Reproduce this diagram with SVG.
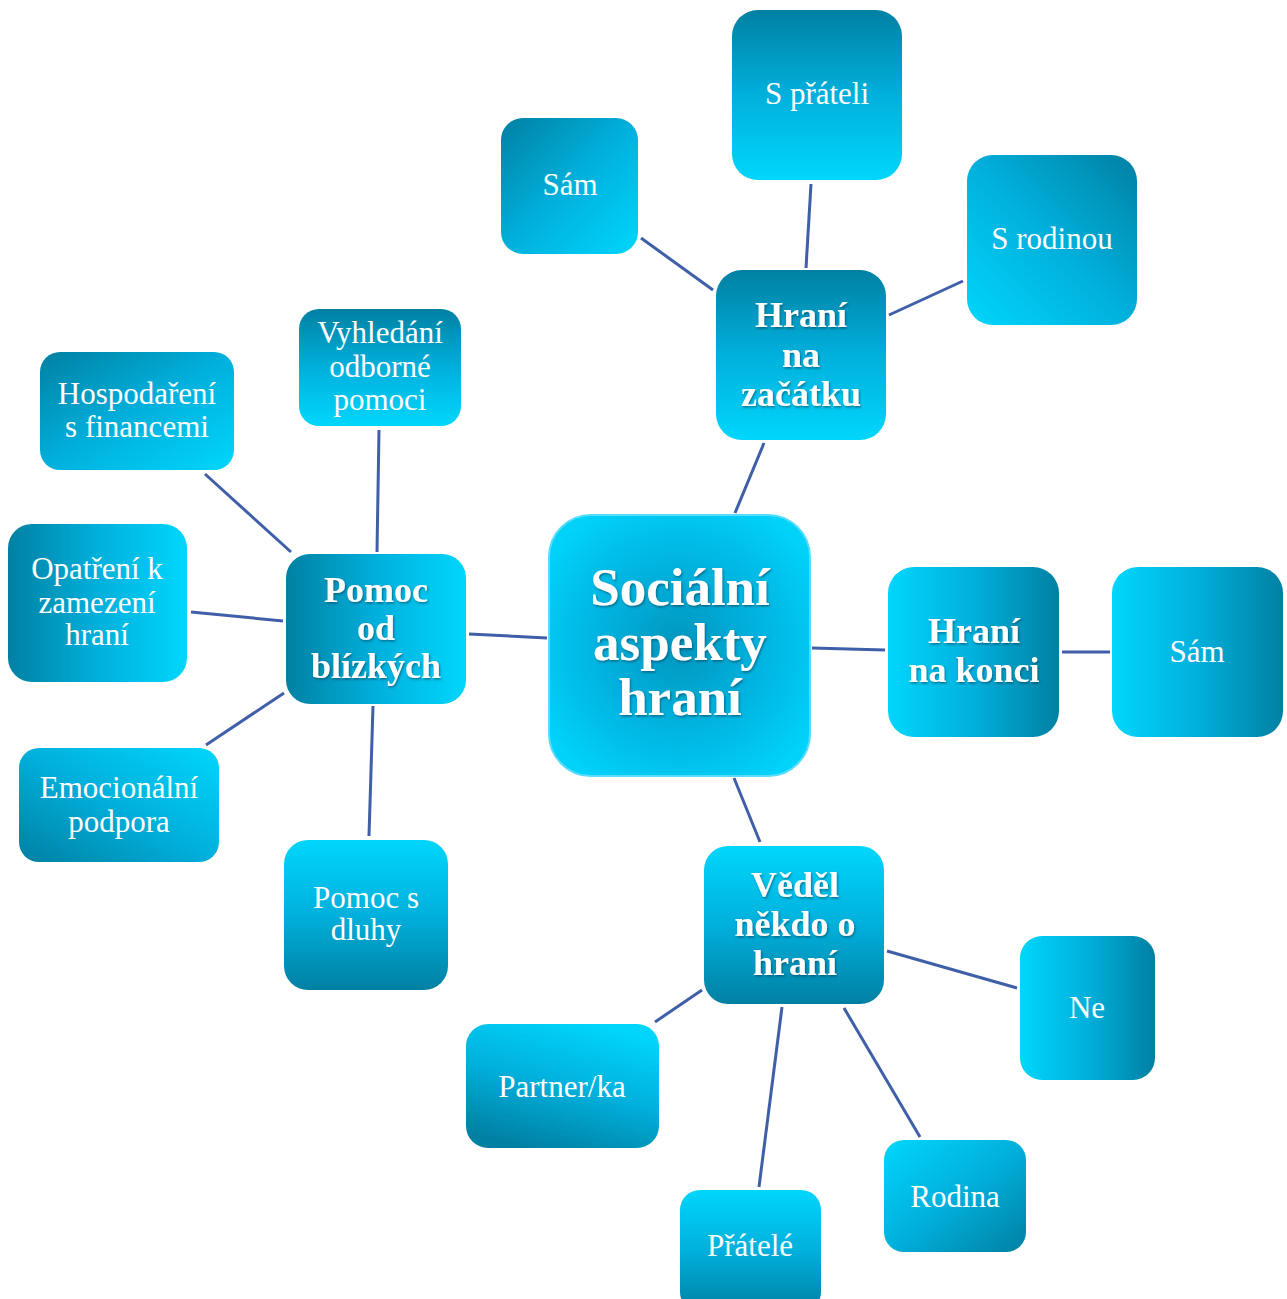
<svg xmlns="http://www.w3.org/2000/svg" width="1287" height="1299" viewBox="0 0 1287 1299">
<defs>
<linearGradient id="gDarkTop" x1="0" y1="0" x2="0" y2="1"><stop offset="0" stop-color="#0080a2"/><stop offset="0.5" stop-color="#00b0dc"/><stop offset="1" stop-color="#00d6fc"/></linearGradient>
<linearGradient id="gLightTop" x1="0" y1="0" x2="0" y2="1"><stop offset="0" stop-color="#00d6fc"/><stop offset="0.5" stop-color="#00b0dc"/><stop offset="1" stop-color="#0080a2"/></linearGradient>
<linearGradient id="gDarkLeft" x1="0" y1="0" x2="1" y2="0"><stop offset="0" stop-color="#0080a2"/><stop offset="0.5" stop-color="#00b0dc"/><stop offset="1" stop-color="#00d6fc"/></linearGradient>
<linearGradient id="gLightLeft" x1="0" y1="0" x2="1" y2="0"><stop offset="0" stop-color="#00d6fc"/><stop offset="0.5" stop-color="#00b0dc"/><stop offset="1" stop-color="#0080a2"/></linearGradient>
<linearGradient id="gDarkTL" x1="0" y1="0" x2="1" y2="1"><stop offset="0" stop-color="#0080a2"/><stop offset="0.5" stop-color="#00b0dc"/><stop offset="1" stop-color="#00d6fc"/></linearGradient>
<linearGradient id="gLightTL" x1="0" y1="0" x2="1" y2="1"><stop offset="0" stop-color="#00d6fc"/><stop offset="0.5" stop-color="#00b0dc"/><stop offset="1" stop-color="#0080a2"/></linearGradient>
<linearGradient id="gDarkTR" x1="1" y1="0" x2="0" y2="1"><stop offset="0" stop-color="#0080a2"/><stop offset="0.5" stop-color="#00b0dc"/><stop offset="1" stop-color="#00d6fc"/></linearGradient>
<linearGradient id="gLightTR" x1="1" y1="0" x2="0" y2="1"><stop offset="0" stop-color="#00d6fc"/><stop offset="0.5" stop-color="#00b0dc"/><stop offset="1" stop-color="#0080a2"/></linearGradient>
<linearGradient id="gPartner" x1="0.7" y1="0" x2="0.3" y2="1"><stop offset="0" stop-color="#00d6fc"/><stop offset="0.5" stop-color="#00b0dc"/><stop offset="1" stop-color="#0080a2"/></linearGradient>
<radialGradient id="gCenter" cx="0.5" cy="0.5" r="0.6"><stop offset="0" stop-color="#0096be"/><stop offset="0.6" stop-color="#00b8e4"/><stop offset="1" stop-color="#00d2fa"/></radialGradient>
<filter id="shadow" x="-10%" y="-10%" width="120%" height="130%"><feDropShadow dx="1" dy="1.5" stdDeviation="1" flood-color="#00304a" flood-opacity="0.55"/></filter>
</defs>
<style>
.lbl{font-family:"Liberation Serif","Times New Roman",serif;fill:#ffffff;text-anchor:middle;font-size:31px;}
.bold{font-weight:bold;font-size:36px;filter:url(#shadow);}
.big{font-weight:bold;font-size:53px;filter:url(#shadow);}
.conn line{stroke:#3f5fa8;stroke-width:3;stroke-linecap:butt;}
</style>
<rect width="1287" height="1299" fill="#ffffff"/>
<g id="connectors" class="conn">
<line x1="735" y1="513" x2="764" y2="443"/>
<line x1="713" y1="290" x2="641" y2="238"/>
<line x1="806" y1="268" x2="811" y2="184"/>
<line x1="889" y1="315" x2="963" y2="281"/>
<line x1="812" y1="648" x2="885" y2="650"/>
<line x1="1062" y1="652" x2="1110" y2="652"/>
<line x1="734" y1="778" x2="760" y2="842"/>
<line x1="887" y1="951" x2="1017" y2="988"/>
<line x1="702" y1="990" x2="655" y2="1022"/>
<line x1="782" y1="1007" x2="759" y2="1187"/>
<line x1="844" y1="1008" x2="920" y2="1137"/>
<line x1="547" y1="638" x2="469" y2="634"/>
<line x1="377" y1="552" x2="379" y2="430"/>
<line x1="291" y1="552" x2="205" y2="474"/>
<line x1="283" y1="621" x2="191" y2="612"/>
<line x1="284" y1="693" x2="206" y2="745"/>
<line x1="373" y1="706" x2="369" y2="836"/>
</g>
<g id="center">
<rect x="549" y="515" width="261" height="261" rx="42" fill="url(#gCenter)" stroke="#55dcff" stroke-width="2"/>
<text class="lbl big" x="680" y="605">Sociální</text>
<text class="lbl big" x="680" y="660">aspekty</text>
<text class="lbl big" x="680" y="715">hraní</text>
</g>
<g id="hrani-zacatek">
<rect x="716" y="270" width="170" height="170" rx="26" fill="url(#gDarkTop)"/>
<text class="lbl bold" x="801" y="327">Hraní</text>
<text class="lbl bold" x="801" y="367">na</text>
<text class="lbl bold" x="801" y="406">začátku</text>
</g>
<g id="sam-top">
<rect x="501" y="118" width="137" height="136" rx="22" fill="url(#gDarkTL)"/>
<text class="lbl" x="570" y="195">Sám</text>
</g>
<g id="s-prateli">
<rect x="732" y="10" width="170" height="170" rx="26" fill="url(#gDarkTop)"/>
<text class="lbl" x="817" y="104">S přáteli</text>
</g>
<g id="s-rodinou">
<rect x="967" y="155" width="170" height="170" rx="26" fill="url(#gDarkTR)"/>
<text class="lbl" x="1052" y="249">S rodinou</text>
</g>
<g id="hrani-konec">
<rect x="888" y="567" width="171" height="170" rx="26" fill="url(#gLightLeft)"/>
<text class="lbl bold" x="974" y="643">Hraní</text>
<text class="lbl bold" x="974" y="682">na konci</text>
</g>
<g id="sam-right">
<rect x="1112" y="567" width="171" height="170" rx="26" fill="url(#gLightLeft)"/>
<text class="lbl" x="1197" y="662">Sám</text>
</g>
<g id="vedel">
<rect x="704" y="846" width="180" height="158" rx="24" fill="url(#gLightTop)"/>
<text class="lbl bold" x="795" y="897">Věděl</text>
<text class="lbl bold" x="795" y="936">někdo o</text>
<text class="lbl bold" x="795" y="975">hraní</text>
</g>
<g id="ne">
<rect x="1020" y="936" width="135" height="144" rx="22" fill="url(#gLightLeft)"/>
<text class="lbl" x="1087" y="1018">Ne</text>
</g>
<g id="partner">
<rect x="466" y="1024" width="193" height="124" rx="22" fill="url(#gPartner)"/>
<text class="lbl" x="562" y="1097">Partner/ka</text>
</g>
<g id="rodina">
<rect x="884" y="1140" width="142" height="112" rx="20" fill="url(#gLightTL)"/>
<text class="lbl" x="955" y="1207">Rodina</text>
</g>
<g id="pratele">
<rect x="680" y="1190" width="141" height="122" rx="20" fill="url(#gLightTop)"/>
<text class="lbl" x="750" y="1256">Přátelé</text>
</g>
<g id="pomoc-blizkych">
<rect x="286" y="554" width="180" height="150" rx="24" fill="url(#gDarkLeft)"/>
<text class="lbl bold" x="376" y="602">Pomoc</text>
<text class="lbl bold" x="376" y="640">od</text>
<text class="lbl bold" x="376" y="678">blízkých</text>
</g>
<g id="vyhledani">
<rect x="299" y="309" width="162" height="117" rx="20" fill="url(#gDarkTop)"/>
<text class="lbl" x="380" y="343">Vyhledání</text>
<text class="lbl" x="380" y="377">odborné</text>
<text class="lbl" x="380" y="410">pomoci</text>
</g>
<g id="hospodareni">
<rect x="40" y="352" width="194" height="118" rx="20" fill="url(#gDarkTL)"/>
<text class="lbl" x="137" y="404">Hospodaření</text>
<text class="lbl" x="137" y="437">s financemi</text>
</g>
<g id="opatreni">
<rect x="8" y="524" width="179" height="158" rx="24" fill="url(#gDarkLeft)"/>
<text class="lbl" x="97" y="579">Opatření k</text>
<text class="lbl" x="97" y="613">zamezení</text>
<text class="lbl" x="97" y="645">hraní</text>
</g>
<g id="emocionalni">
<rect x="19" y="748" width="200" height="114" rx="20" fill="url(#gLightTR)"/>
<text class="lbl" x="119" y="798">Emocionální</text>
<text class="lbl" x="119" y="832">podpora</text>
</g>
<g id="pomoc-dluhy">
<rect x="284" y="840" width="164" height="150" rx="24" fill="url(#gLightTop)"/>
<text class="lbl" x="366" y="908">Pomoc s</text>
<text class="lbl" x="366" y="940">dluhy</text>
</g>
</svg>
